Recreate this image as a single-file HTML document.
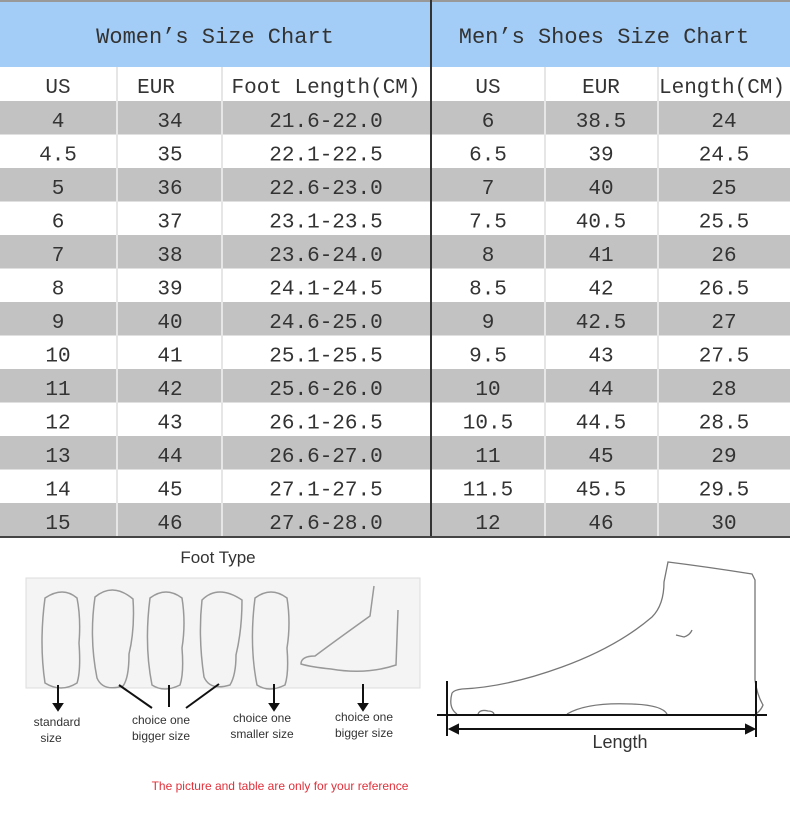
<!DOCTYPE html>
<html><head><meta charset="utf-8"><style>
body{margin:0;background:#fff;width:790px;height:814px;overflow:hidden}
svg{display:block}
.t{font-family:"Liberation Mono","Noto Sans CJK SC",monospace;font-size:21px;fill:#333;text-anchor:middle}
.s{font-family:"Liberation Sans",sans-serif;fill:#333;text-anchor:middle}
.f{fill:none;stroke:#999;stroke-width:1.5}
</style></head><body>
<svg width="790" height="814" viewBox="0 0 790 814">
<rect x="0" y="0" width="790" height="67" fill="#a3cdf6"/>
<line x1="0" y1="1" x2="790" y2="1" stroke="#999" stroke-width="2"/>
<g fill="#c2c2c2">
<rect x="0" y="101" width="790" height="33.5"/>
<rect x="0" y="168" width="790" height="33.5"/>
<rect x="0" y="235" width="790" height="33.5"/>
<rect x="0" y="302" width="790" height="33.5"/>
<rect x="0" y="369" width="790" height="33.5"/>
<rect x="0" y="436" width="790" height="33.5"/>
<rect x="0" y="503" width="790" height="34"/>
</g>
<g stroke="#e6e6e6" stroke-width="2">
<line x1="117" y1="67" x2="117" y2="537"/><line x1="222" y1="67" x2="222" y2="537"/>
<line x1="545" y1="67" x2="545" y2="537"/><line x1="658" y1="67" x2="658" y2="537"/>
</g>
<line x1="431" y1="0" x2="431" y2="537" stroke="#333" stroke-width="2"/>
<line x1="0" y1="537" x2="790" y2="537" stroke="#444" stroke-width="2"/>
<text class="t" x="215" y="43" style="font-size:22px">Women’s Size Chart</text>
<text class="t" x="604" y="43" style="font-size:22px">Men’s Shoes Size Chart</text>
<text class="t" x="58" y="93">US</text><text class="t" x="156" y="93">EUR</text><text class="t" x="326" y="93">Foot Length(CM)</text>
<text class="t" x="488" y="93">US</text><text class="t" x="601" y="93">EUR</text><text class="t" x="722" y="93">Length(CM)</text>

<g class="t">
<text x="58" y="127">4</text><text x="170" y="127">34</text><text x="326" y="127">21.6-22.0</text><text x="488" y="127">6</text><text x="601" y="127">38.5</text><text x="724" y="127">24</text>
<text x="58" y="160.5">4.5</text><text x="170" y="160.5">35</text><text x="326" y="160.5">22.1-22.5</text><text x="488" y="160.5">6.5</text><text x="601" y="160.5">39</text><text x="724" y="160.5">24.5</text>
<text x="58" y="194">5</text><text x="170" y="194">36</text><text x="326" y="194">22.6-23.0</text><text x="488" y="194">7</text><text x="601" y="194">40</text><text x="724" y="194">25</text>
<text x="58" y="227.5">6</text><text x="170" y="227.5">37</text><text x="326" y="227.5">23.1-23.5</text><text x="488" y="227.5">7.5</text><text x="601" y="227.5">40.5</text><text x="724" y="227.5">25.5</text>
<text x="58" y="261">7</text><text x="170" y="261">38</text><text x="326" y="261">23.6-24.0</text><text x="488" y="261">8</text><text x="601" y="261">41</text><text x="724" y="261">26</text>
<text x="58" y="294.5">8</text><text x="170" y="294.5">39</text><text x="326" y="294.5">24.1-24.5</text><text x="488" y="294.5">8.5</text><text x="601" y="294.5">42</text><text x="724" y="294.5">26.5</text>
<text x="58" y="328">9</text><text x="170" y="328">40</text><text x="326" y="328">24.6-25.0</text><text x="488" y="328">9</text><text x="601" y="328">42.5</text><text x="724" y="328">27</text>
<text x="58" y="361.5">10</text><text x="170" y="361.5">41</text><text x="326" y="361.5">25.1-25.5</text><text x="488" y="361.5">9.5</text><text x="601" y="361.5">43</text><text x="724" y="361.5">27.5</text>
<text x="58" y="395">11</text><text x="170" y="395">42</text><text x="326" y="395">25.6-26.0</text><text x="488" y="395">10</text><text x="601" y="395">44</text><text x="724" y="395">28</text>
<text x="58" y="428.5">12</text><text x="170" y="428.5">43</text><text x="326" y="428.5">26.1-26.5</text><text x="488" y="428.5">10.5</text><text x="601" y="428.5">44.5</text><text x="724" y="428.5">28.5</text>
<text x="58" y="462">13</text><text x="170" y="462">44</text><text x="326" y="462">26.6-27.0</text><text x="488" y="462">11</text><text x="601" y="462">45</text><text x="724" y="462">29</text>
<text x="58" y="495.5">14</text><text x="170" y="495.5">45</text><text x="326" y="495.5">27.1-27.5</text><text x="488" y="495.5">11.5</text><text x="601" y="495.5">45.5</text><text x="724" y="495.5">29.5</text>
<text x="58" y="529">15</text><text x="170" y="529">46</text><text x="326" y="529">27.6-28.0</text><text x="488" y="529">12</text><text x="601" y="529">46</text><text x="724" y="529">30</text>
</g>

<text class="s" x="218" y="563" style="font-size:17px">Foot Type</text>
<rect x="26" y="578" width="394" height="110" fill="#f4f4f4" stroke="#ddd"/>
<g class="f">
<path d="M45 598 q18-12 32 0 q4 20 2 45 q2 28-2 40 q-16 10-32 0 q-6-40 0-85z"/>
<path d="M95 597 q18-15 38 2 q2 30-4 55 q0 24-6 32 q-20 6-26-8 q-8-40-2-81z"/>
<path d="M150 598 q16-12 32 0 q4 25 0 50 q2 25-2 37 q-16 8-28 0 q-8-40-2-87z"/>
<path d="M202 600 q16-16 40 0 q0 30-6 55 q0 20-6 30 q-20 6-26-8 q-6-40-2-77z"/>
<path d="M255 598 q16-12 32 0 q4 25 0 50 q2 25-2 37 q-16 8-28 0 q-8-40-2-87z"/>
<path d="M398 610 l-2 55 q-30 10-65 4 q-20-2-30-5 q0-8 14-8 q20-15 55-40 l4-30"/>
</g>
<g stroke="#111" stroke-width="2" fill="#111">
<line x1="58" y1="685" x2="58" y2="706"/><path d="M54 704 l4 6 4-6z"/>
<line x1="119" y1="685" x2="152" y2="708"/><line x1="169" y1="685" x2="169" y2="707"/><line x1="219" y1="684" x2="186" y2="708"/>
<line x1="274" y1="684" x2="274" y2="708"/><path d="M270 704 l4 6 4-6z"/>
<line x1="363" y1="684" x2="363" y2="706"/><path d="M359 704 l4 6 4-6z"/>
</g>
<g class="s" style="font-size:12px">
<text x="57" y="726">standard</text><text x="51" y="742">size</text>
<text x="161" y="724">choice one</text><text x="161" y="740">bigger size</text>
<text x="262" y="722">choice one</text><text x="262" y="738">smaller size</text>
<text x="364" y="721">choice one</text><text x="364" y="737">bigger size</text>
</g>
<text class="s" x="280" y="790" style="font-size:12px;fill:#e0303a">The picture and table are only for your reference</text>

<g fill="none" stroke="#777" stroke-width="1.3">
<path d="M452 693 q2-3 10-4 q45-2 100-22 q55-20 90-50 q12-12 12-35 q2-10 4-20 q40 5 84 12 l3 6 v100 q2 15 8 25 q-2 6-10 11"/>
<path d="M452 693 q-4 15 5 21 M567 714 q20-12 65-10 q30 1 35 10 M478 714 q2-5 10-3 q5 0 6 3 M676 635 l8 2 q6-2 8-7"/>
</g>
<g stroke="#111" stroke-width="2" fill="#111">
<line x1="437" y1="715" x2="767" y2="715"/>
<line x1="447" y1="681" x2="447" y2="736"/><line x1="756" y1="681" x2="756" y2="737"/>
<line x1="452" y1="729" x2="752" y2="729"/>
<path d="M450 729 l8-4 v8z M754 729 l-8-4 v8z"/>
</g>
<text class="s" x="620" y="748" style="font-size:18px">Length</text>
</svg>
</body></html>
